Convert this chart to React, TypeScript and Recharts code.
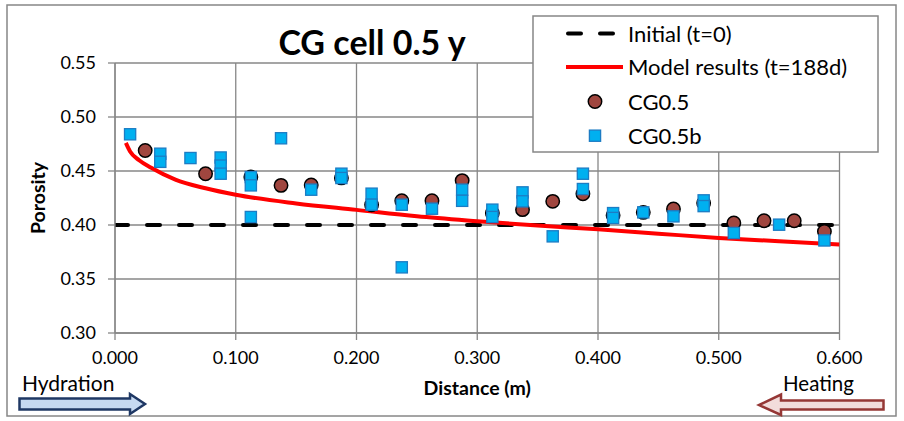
import React from "react";
import {
  ComposedChart,
  XAxis,
  YAxis,
  CartesianGrid,
  Line,
  Scatter,
  Label,
} from "recharts";

// axis ticks
const xTicks = [0, 0.1, 0.2, 0.3, 0.4, 0.5, 0.6];
const yTicks = [0.3, 0.35, 0.4, 0.45, 0.5, 0.55];

// initial porosity (t=0)
const initialX = [0, 0.6];
const initialPorosity = [0.4, 0.4];

// model results (t=188d)
const modelX = [0.009, 0.0125, 0.02, 0.03, 0.05, 0.075, 0.1, 0.15, 0.2, 0.25, 0.3, 0.35, 0.4, 0.45, 0.5, 0.55, 0.6];
const modelPorosity = [0.476, 0.468, 0.46, 0.453, 0.442, 0.434, 0.428, 0.42, 0.414, 0.408, 0.4035, 0.3995, 0.396, 0.392, 0.388, 0.385, 0.382];

// CG0.5 measurements
const cgX = [0.025, 0.075, 0.1125, 0.1375, 0.1625, 0.1875, 0.2125, 0.2375, 0.2625, 0.2875, 0.3125, 0.3375, 0.3625, 0.3875, 0.4125, 0.4375, 0.4625, 0.4875, 0.5125, 0.5375, 0.5625, 0.5875];
const cgPorosity = [0.469, 0.4475, 0.4444, 0.4367, 0.437, 0.4436, 0.4188, 0.4224, 0.4224, 0.4411, 0.411, 0.4142, 0.4219, 0.429, 0.409, 0.4117, 0.4148, 0.4204, 0.4019, 0.404, 0.404, 0.394];

// CG0.5b measurements
const cgbX = [0.0125, 0.0375, 0.0375, 0.0625, 0.0875, 0.0875, 0.0875, 0.1125, 0.1125, 0.1125, 0.1375, 0.1625, 0.1875, 0.1875, 0.2125, 0.2125, 0.2375, 0.2375, 0.2625, 0.2875, 0.2875, 0.3125, 0.3125, 0.3375, 0.3375, 0.3625, 0.3875, 0.3875, 0.4125, 0.4125, 0.4375, 0.4625, 0.4875, 0.4875, 0.5125, 0.55, 0.5875];
const cgbPorosity = [0.484, 0.466, 0.4585, 0.462, 0.4625, 0.455, 0.4475, 0.4444, 0.4367, 0.4074, 0.4803, 0.4327, 0.4475, 0.4435, 0.429, 0.4188, 0.4188, 0.3608, 0.4151, 0.4327, 0.4224, 0.4142, 0.4074, 0.4302, 0.4219, 0.3895, 0.4475, 0.4333, 0.411, 0.4065, 0.4117, 0.408, 0.4228, 0.4175, 0.3926, 0.4003, 0.3857];

const zip = (xs: number[], ys: number[]) => xs.map((x, i) => ({ x, y: ys[i] }));

const initialData = zip(initialX, initialPorosity);
const modelData = zip(modelX, modelPorosity);
const cgData = zip(cgX, cgPorosity);
const cgbData = zip(cgbX, cgbPorosity);

const FONT = "Lato, 'Open Sans', sans-serif";
const GRID = "#878787";
const BROWN = "#A0463F";
const BLUE = "#00B0F0";
const BLUE_EDGE = "#1C7CC4";

const Dot = (p: any) => (
  <circle cx={p.cx} cy={p.cy} r={6.7} fill={BROWN} stroke="#000" strokeWidth={1.5} />
);
const Square = (p: any) => (
  <rect x={p.cx - 5.6} y={p.cy - 5.6} width={11.2} height={11.2} fill={BLUE} stroke={BLUE_EDGE} strokeWidth={1.3} />
);

export default function App() {
  return (
    <div style={{ position: "absolute", left: 0, top: 0, width: 904, height: 421, fontFamily: FONT, background: "#fff" }}>
      <ComposedChart
        width={904}
        height={421}
        margin={{ top: 63, right: 64.5, bottom: 58, left: 0 }}
        style={{ fontFamily: FONT }}
      >
        <CartesianGrid stroke={GRID} strokeWidth={1.3} />
        <XAxis
          type="number"
          dataKey="x"
          domain={[0, 0.6]}
          ticks={xTicks}
          allowDataOverflow
          height={30}
          tickFormatter={(v: number) => v.toFixed(3)}
          tick={{ fill: "#000", fontSize: 18, fontFamily: FONT }}
          tickSize={7}
          tickMargin={11}
          stroke={GRID}
          strokeWidth={1.3}
        >
          <Label
            value="Distance (m)"
            position="bottom"
            offset={18}
            style={{ fontWeight: 700, fontSize: 19.5, fill: "#000", fontFamily: FONT }}
          />
        </XAxis>
        <YAxis
          type="number"
          dataKey="y"
          domain={[0.3, 0.55]}
          ticks={yTicks}
          allowDataOverflow
          width={115}
          tickFormatter={(v: number) => v.toFixed(2)}
          tick={{ fill: "#000", fontSize: 18, fontFamily: FONT }}
          tickSize={7}
          tickMargin={12}
          stroke={GRID}
          strokeWidth={1.3}
        >
          <Label
            value="Porosity"
            angle={-90}
            position="insideLeft"
            offset={38}
            style={{ fontWeight: 700, fontSize: 19.5, fill: "#000", textAnchor: "middle", fontFamily: FONT }}
          />
        </YAxis>
        <Line
          data={initialData}
          dataKey="y"
          stroke="#000"
          strokeWidth={4}
          strokeDasharray="13 19"
          strokeLinecap="round"
          dot={false}
          activeDot={false}
          isAnimationActive={false}
        />
        <Line
          data={modelData}
          dataKey="y"
          type="monotone"
          stroke="#FF0000"
          strokeWidth={4}
          dot={false}
          activeDot={false}
          isAnimationActive={false}
        />
        <Scatter data={cgData} dataKey="y" shape={Dot} isAnimationActive={false} />
        <Scatter data={cgbData} dataKey="y" shape={Square} isAnimationActive={false} />
      </ComposedChart>

      <svg
        width={904}
        height={421}
        style={{ position: "absolute", left: 0, top: 0, pointerEvents: "none" }}
        fontFamily={FONT}
      >
        <rect x={7} y={5} width={889} height={411} fill="none" stroke={GRID} strokeWidth={1.5} />
        <text x={372} y={55} textAnchor="middle" fontSize={34} fontWeight={700} fill="#000">
          CG cell 0.5 y
        </text>

        {/* legend */}
        <rect x={533} y={16} width={345} height={136} fill="#fff" stroke={GRID} strokeWidth={1.5} />
        <line x1={568} y1={33.5} x2={616} y2={33.5} stroke="#000" strokeWidth={4} strokeDasharray="13 19" strokeLinecap="round" />
        <line x1={566} y1={67} x2={623} y2={67} stroke="#FF0000" strokeWidth={4} />
        <Dot cx={595} cy={101.5} />
        <Square cx={595} cy={135.7} />
        <text x={628} y={41.5} fontSize={22} fill="#000">Initial (t=0)</text>
        <text x={628} y={75} fontSize={22} fill="#000">Model results (t=188d)</text>
        <text x={628} y={109.5} fontSize={22} fill="#000">CG0.5</text>
        <text x={628} y={143.5} fontSize={22} fill="#000">CG0.5b</text>

        {/* direction arrows */}
        <text x={22} y={391} fontSize={21} fill="#000">Hydration</text>
        <polygon
          points="19.5,398.5 130,398.5 130,394 145,404 130,414 130,409.5 19.5,409.5"
          fill="#C6D9F1"
          stroke="#1F3864"
          strokeWidth={2.5}
        />
        <text x={783} y={391} fontSize={20.5} fill="#000">Heating</text>
        <polygon
          points="883.5,400.5 781,400.5 781,394.5 759,405 781,415 781,409.5 883.5,409.5"
          fill="#F2DCDB"
          stroke="#953735"
          strokeWidth={2.5}
        />
      </svg>
    </div>
  );
}
